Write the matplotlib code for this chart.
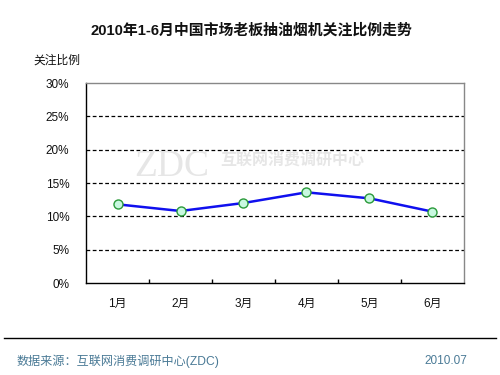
import matplotlib
matplotlib.use("Agg")
import matplotlib.pyplot as plt
from matplotlib.ticker import FuncFormatter, FixedLocator

plt.rcParams['font.family'] = ['Liberation Sans', 'Noto Sans CJK SC', 'DejaVu Sans']

months = ['1月', '2月', '3月', '4月', '5月', '6月']
share = [11.8, 10.8, 12.0, 13.6, 12.7, 10.7]
yticks = [0, 5, 10, 15, 20, 25, 30]

fig = plt.figure(figsize=(5, 3.75), dpi=100)
W, H = 500, 375
ax = fig.add_axes([86 / W, 1 - 283 / H, (464 - 86) / W, (283 - 83) / H])

x = list(range(len(months)))
ax.plot(x, share, color='#1010ee', lw=1.8, marker='o', ms=6.5,
        mfc='#c8f8e0', mec='#2a9a3a', mew=1.0, zorder=5)

ax.set_xlim(-0.5, len(months) - 0.5)
ax.set_ylim(0, 30)
ax.set_yticks(yticks)
ax.yaxis.set_major_formatter(FuncFormatter(lambda v, p: f'{int(v)}%'))
ax.set_xticks(x)
ax.set_xticklabels(months)
ax.xaxis.set_minor_locator(FixedLocator([i + 0.5 for i in range(len(months) - 1)]))
ax.tick_params(axis='x', which='minor', direction='in', length=3, width=1.0, color='black')
ax.tick_params(axis='both', which='major', length=0, labelsize=8.5, colors='#111111')
ax.tick_params(axis='x', which='major', pad=11)
ax.tick_params(axis='y', which='major', pad=12)
for t in yticks[1:-1]:
    ax.axhline(t, color='black', lw=0.9, ls=(0, (3, 2)), zorder=1)

ax.spines['left'].set_color('black')
ax.spines['bottom'].set_color('black')
ax.spines['top'].set_color('#888888')
ax.spines['right'].set_color('#888888')
for s in ax.spines.values():
    s.set_linewidth(1.0)

# watermark
fig.text(134 / W, 1 - 167 / H, 'ZDC', fontsize=27, color='#e6e6e6',
         family=['Liberation Serif'], va='center', ha='left', zorder=0)
fig.text(220 / W, 1 - 160 / H, '互联网消费调研中心', fontsize=11.5, color='#e6e6e6',
         fontweight='bold', va='center', ha='left', zorder=0)

fig.text(0.502, 1 - 30 / H, '2010年1-6月中国市场老板抽油烟机关注比例走势',
         ha='center', va='center', fontsize=10.7, fontweight='bold', color='#111111')
fig.text(33 / W, 1 - 61 / H, '关注比例', ha='left', va='center', fontsize=8.5,
         color='#111111')

fig.add_artist(plt.Line2D([4 / W, 496 / W], [1 - 338 / H, 1 - 338 / H],
                          color='black', lw=1.0, transform=fig.transFigure))
fig.text(17 / W, 1 - 361 / H, '数据来源：互联网消费调研中心(ZDC)', ha='left',
         va='center', fontsize=8.7, color='#4a7a96')
fig.text(467 / W, 1 - 361 / H, '2010.07', ha='right', va='center', fontsize=8.5,
         color='#4a7a96')

fig.savefig('out.png', dpi=100)
